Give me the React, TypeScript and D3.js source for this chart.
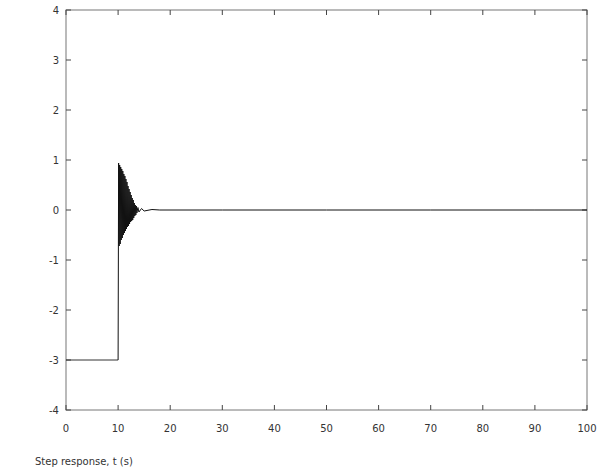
import { useEffect, useRef } from 'react'
import * as d3 from 'd3'

// signal samples (time, value)
const flatTime = [0, 10]
const flatValue = [-3, -3]

const ringTime = [
  10, 10.1, 10.2, 10.3, 10.4, 10.5, 10.6, 10.7, 10.8, 10.9, 11, 11.1, 11.2, 11.3, 11.4, 11.5,
  11.6, 11.7, 11.8, 11.9, 12, 12.1, 12.2, 12.3, 12.4, 12.5, 12.6, 12.7, 12.8, 12.9, 13, 13.1,
  13.2, 13.3, 13.4, 13.5, 13.6, 13.8, 14, 14.5, 15, 16.5, 18, 30, 50, 70, 90, 100
]
const ringValue = [
  -3, 0.94, -0.72, 0.9, -0.68, 0.86, -0.6, 0.82, -0.56, 0.78, -0.5, 0.72, -0.46, 0.68, -0.42,
  0.62, -0.38, 0.56, -0.34, 0.48, -0.32, 0.42, -0.28, 0.36, -0.24, 0.3, -0.22, 0.24, -0.2, 0.2,
  -0.16, 0.14, -0.12, 0.1, -0.1, 0.08, -0.06, 0.05, -0.04, 0.03, -0.02, 0.01, 0, 0, 0, 0, 0, 0
]

const xTicks = [0, 10, 20, 30, 40, 50, 60, 70, 80, 90, 100]
const yTicks = [-4, -3, -2, -1, 0, 1, 2, 3, 4]
const caption = 'Step response, t (s)'

const App = () => {
  const ref = useRef<SVGSVGElement>(null)

  useEffect(() => {
    const svg = d3.select(ref.current)
    svg.selectAll('*').remove()
    const left = 66
    const right = 587
    const top = 10
    const bottom = 410

    const x = d3.scaleLinear().domain([0, 100]).range([left, right])
    const y = d3.scaleLinear().domain([-4, 4]).range([bottom, top])

    const g = svg.append('g')

    // frame
    g.append('rect')
      .attr('x', left)
      .attr('y', top)
      .attr('width', right - left)
      .attr('height', bottom - top)
      .attr('fill', 'none')
      .attr('stroke', '#777')
      .attr('stroke-width', 1)

    // inward ticks on all four sides
    xTicks.forEach((t) => {
      g.append('line').attr('x1', x(t)).attr('x2', x(t)).attr('y1', bottom).attr('y2', bottom - 5).attr('stroke', '#444')
      g.append('line').attr('x1', x(t)).attr('x2', x(t)).attr('y1', top).attr('y2', top + 5).attr('stroke', '#444')
    })
    yTicks.forEach((t) => {
      g.append('line').attr('x1', left).attr('x2', left + 5).attr('y1', y(t)).attr('y2', y(t)).attr('stroke', '#444')
      g.append('line').attr('x1', right).attr('x2', right - 5).attr('y1', y(t)).attr('y2', y(t)).attr('stroke', '#444')
    })

    g.selectAll('.xl')
      .data(xTicks)
      .enter()
      .append('text')
      .attr('x', (d) => x(d))
      .attr('y', bottom + 22)
      .attr('text-anchor', 'middle')
      .attr('font-family', 'DejaVu Sans')
      .attr('font-size', 10)
      .attr('fill', '#333')
      .text((d) => d)

    g.selectAll('.yl')
      .data(yTicks)
      .enter()
      .append('text')
      .attr('x', left - 7)
      .attr('y', (d) => y(d) + 4)
      .attr('text-anchor', 'end')
      .attr('font-family', 'DejaVu Sans')
      .attr('font-size', 10)
      .attr('fill', '#333')
      .text((d) => d)

    g.append('text')
      .attr('x', 35)
      .attr('y', 465)
      .attr('font-family', 'DejaVu Sans')
      .attr('font-size', 10)
      .attr('fill', '#333')
      .text(caption)

    const line = d3
      .line<number>()
      .x((d) => x(d))

    g.append('path')
      .attr('fill', 'none')
      .attr('stroke', '#333')
      .attr('stroke-width', 1)
      .attr('d', line.y((_, i) => y(flatValue[i]))(flatTime))

    g.append('path')
      .attr('fill', 'none')
      .attr('stroke', '#111')
      .attr('stroke-width', 1)
      .attr('d', line.y((_, i) => y(ringValue[i]))(ringTime))
  }, [])

  return (
    <svg
      ref={ref}
      width={600}
      height={470}
      style={{ position: 'absolute', left: 0, top: 0, background: '#fff' }}
    />
  )
}

export default App
